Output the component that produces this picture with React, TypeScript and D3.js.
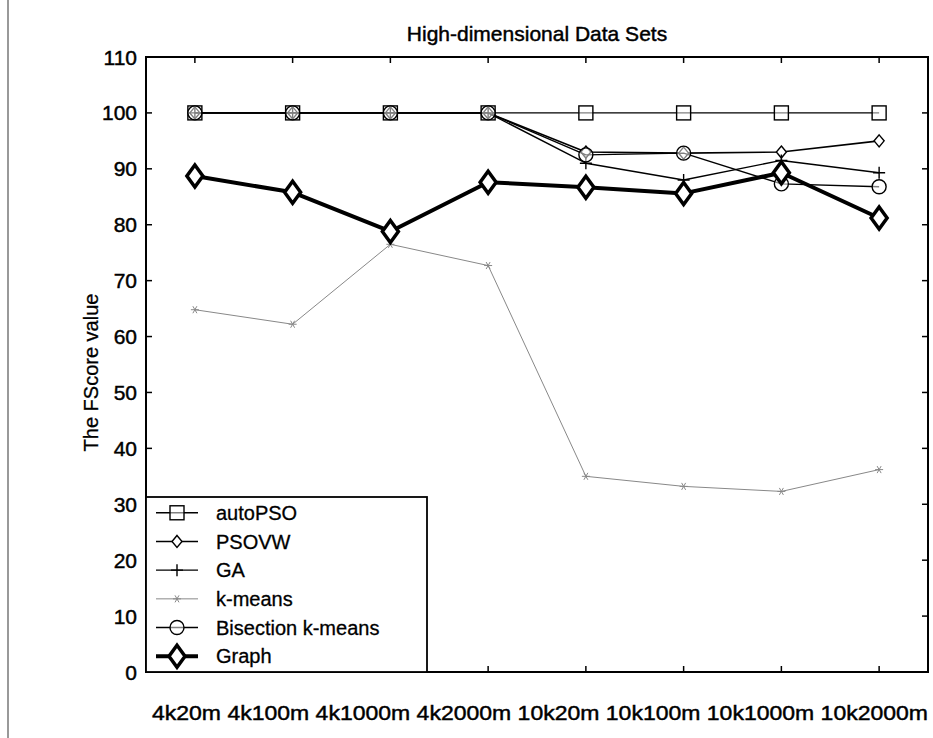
import React from "react";
import * as d3 from "d3";

const categories = ["4k20m", "4k100m", "4k1000m", "4k2000m", "10k20m", "10k100m", "10k1000m", "10k2000m"];
const autoPSO = [100, 100, 100, 100, 100, 100, 100, 100];
const psovw = [100, 100, 100, 100, 93, 92.8, 93, 95];
const ga = [100, 100, 100, 100, 91, 88, 91.5, 89.3];
const kmeans = [64.8, 62.2, 76.5, 72.7, 35, 33.2, 32.3, 36.2];
const bisection = [100, 100, 100, 100, 92.5, 92.8, 87.3, 86.8];
const graph = [88.7, 85.8, 78.8, 87.6, 86.7, 85.6, 89.3, 81.2];
const yTicks = [0, 10, 20, 30, 40, 50, 60, 70, 80, 90, 100, 110];
const seriesNames = ["autoPSO", "PSOVW", "GA", "k-means", "Bisection k-means", "Graph"];

type Marker = "square" | "smalldiamond" | "plus" | "star" | "circle" | "bigdiamond";
interface Series { name: string; values: number[]; marker: Marker; color: string; width: number; }

const series: Series[] = [
  { name: seriesNames[0], values: autoPSO, marker: "square", color: "#000", width: 1.4 },
  { name: seriesNames[1], values: psovw, marker: "smalldiamond", color: "#000", width: 1.6 },
  { name: seriesNames[2], values: ga, marker: "plus", color: "#000", width: 1.4 },
  { name: seriesNames[3], values: kmeans, marker: "star", color: "#888", width: 1 },
  { name: seriesNames[4], values: bisection, marker: "circle", color: "#000", width: 1.4 },
  { name: seriesNames[5], values: graph, marker: "bigdiamond", color: "#000", width: 4 },
];

const W = 933, H = 738;
const left = 146, right = 928, top = 57, bottom = 672;
const FONT = "'Liberation Sans', Arial, sans-serif";
const TXT = { fontFamily: FONT, stroke: "#000", strokeWidth: 0.45, fill: "#000" } as const;

function MarkerShape({ m, x, y, color }: { m: Marker; x: number; y: number; color: string }) {
  switch (m) {
    case "square":
      return <rect x={x - 7} y={y - 7} width={14} height={14} fill="#fff" fillOpacity={0.5} stroke="#000" strokeWidth={1.4} />;
    case "smalldiamond":
      return <path d={`M${x},${y - 6}L${x + 5},${y}L${x},${y + 6}L${x - 5},${y}Z`} fill="#fff" stroke="#000" strokeWidth={1.4} />;
    case "plus":
      return <path d={`M${x - 6},${y}H${x + 6}M${x},${y - 6}V${y + 6}`} stroke="#000" strokeWidth={1.4} fill="none" />;
    case "star":
      return (
        <path
          d={`M${x - 4},${y}H${x + 4}M${x - 2},${y - 3.5}L${x + 2},${y + 3.5}M${x + 2},${y - 3.5}L${x - 2},${y + 3.5}`}
          stroke={color}
          strokeWidth={1}
          fill="none"
        />
      );
    case "circle":
      return <circle cx={x} cy={y} r={7} fill="#fff" fillOpacity={0.5} stroke="#000" strokeWidth={1.4} />;
    case "bigdiamond":
      return <path d={`M${x},${y - 11}L${x + 8},${y}L${x},${y + 11}L${x - 8},${y}Z`} fill="#fff" stroke="#000" strokeWidth={3.5} />;
  }
}

export default function App() {
  const x = d3.scaleLinear().domain([0.5, categories.length + 0.5]).range([left, right]);
  const y = d3.scaleLinear().domain([0, 110]).range([bottom, top]);
  const line = d3
    .line<number>()
    .x((_, i) => x(i + 1))
    .y((d) => y(d));

  const legX = left, legY = 497, legW = 281, legH = bottom - 497;
  const rowH = legH / (series.length + 0.1);

  return (
    <svg width={W} height={H} style={{ position: "absolute", left: 0, top: 0, background: "#fff" }}>
      <rect width={W} height={H} fill="#fff" />
      <line x1={8} y1={0} x2={8} y2={H} stroke="#555" strokeWidth={1.2} />
      <text x={(left + right) / 2} y={41} textAnchor="middle" fontSize={21} {...TXT}>
        High-dimensional Data Sets
      </text>
      {yTicks.map((t) => (
        <g key={t}>
          <line x1={left} x2={left + 6} y1={y(t)} y2={y(t)} stroke="#000" strokeWidth={1.5} />
          <line x1={right} x2={right - 6} y1={y(t)} y2={y(t)} stroke="#000" strokeWidth={1.5} />
          <text x={137} y={y(t)} dy="0.36em" textAnchor="end" fontSize={21} {...TXT}>
            {t}
          </text>
        </g>
      ))}
      {categories.map((c, i) => (
        <g key={c}>
          <line x1={x(i + 1)} x2={x(i + 1)} y1={bottom} y2={bottom - 6} stroke="#000" strokeWidth={1.5} />
          <line x1={x(i + 1)} x2={x(i + 1)} y1={top} y2={top + 6} stroke="#000" strokeWidth={1.5} />
        </g>
      ))}
      <text x={152} y={720} fontSize={21} textLength={776} lengthAdjust="spacingAndGlyphs" {...TXT}>
        {categories.join(" ")}
      </text>
      <text
        transform={`translate(98,${(top + bottom) / 2 + 8}) rotate(-90)`}
        textAnchor="middle"
        fontSize={20}
        {...TXT}
        strokeWidth={0.3}
      >
        The FScore value
      </text>
      {series.map((s) => (
        <g key={s.name}>
          <path d={line(s.values) || ""} fill="none" stroke={s.color} strokeWidth={s.width} strokeLinejoin="round" />
          {s.values.map((v, i) => (
            <MarkerShape key={i} m={s.marker} x={x(i + 1)} y={y(v)} color={s.color} />
          ))}
        </g>
      ))}
      <rect x={left} y={top} width={right - left} height={bottom - top} fill="none" stroke="#000" strokeWidth={2} />
      <rect x={legX} y={legY} width={legW} height={legH} fill="#fff" stroke="#000" strokeWidth={1.8} />
      {series.map((s, i) => {
        const cy = legY + rowH * (i + 0.55);
        return (
          <g key={s.name}>
            <line x1={legX + 10} x2={legX + 52} y1={cy} y2={cy} stroke={s.color} strokeWidth={s.width} />
            <MarkerShape m={s.marker} x={legX + 31} y={cy} color={s.color} />
            <text x={legX + 70} y={cy} dy="0.36em" fontSize={20} {...TXT} strokeWidth={0.3}>
              {s.name}
            </text>
          </g>
        );
      })}
    </svg>
  );
}
